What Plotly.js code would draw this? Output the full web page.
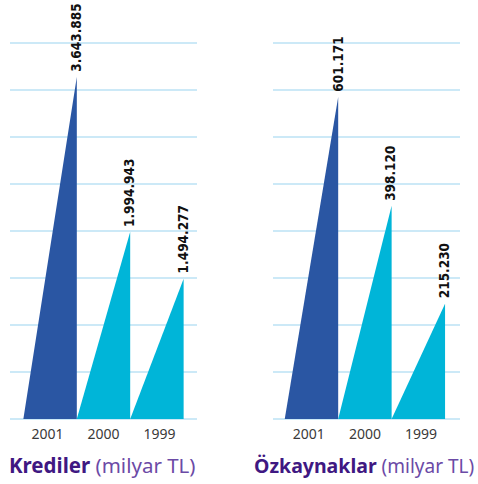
<!DOCTYPE html>
<html>
<head>
<meta charset="utf-8">
<script src="https://cdn.plot.ly/plotly-3.0.1.min.js"></script>
<style>html,body{margin:0;padding:0;background:#fff;}#chart{width:478px;height:484px;}</style>
</head>
<body>
<div id="chart"></div>
<script>
// ---- data ----
const years = ["2001", "2000", "1999"];
const krediler = [3643.885, 1994.943, 1494.277];
const ozkaynaklar = [601.171, 398.120, 215.230];
const krediLabels = ["3.643.885", "1.994.943", "1.494.277"];
const ozkLabels = ["601.171", "398.120", "215.230"];
const panelTitles = ["Krediler", "Özkaynaklar"];
const unitText = " (milyar TL)";

// ---- styles ----
const DARK = "#2a56a3";
const CYAN = "#00b5d8";
const GRID = "#cce9f7";
const PURPLE = "#3f1882";
const PURPLE_LIGHT = "#6b4aa6";
const W = 478, H = 484;

const traces = [];
const annotations = [];

function addPanel(vals, labels, xa, ya) {
  vals.forEach((v, i) => {
    traces.push({
      type: "scatter", mode: "lines", xaxis: xa, yaxis: ya,
      x: [i - 0.5, i + 0.5, i + 0.5, i - 0.5],
      y: [0, 0, v, 0],
      fill: "toself", fillcolor: i === 0 ? DARK : CYAN,
      line: {width: 0}, hoverinfo: "skip", showlegend: false
    });
    annotations.push({
      xref: xa, yref: ya, x: i + 0.5, y: v, yshift: 3, xshift: -1,
      text: "<b>" + labels[i] + "</b>", textangle: -90, showarrow: false,
      xanchor: "center", yanchor: "bottom",
      font: {family: "DejaVu Sans Condensed", size: 13.5, color: "#111"}
    });
  });
}
addPanel(krediler, krediLabels, "x", "y");
addPanel(ozkaynaklar, ozkLabels, "x2", "y2");

// scales (px per unit) so that grid spacing is 47px from baseline at y=419
const baseY = 419;
const leftScale = 342 / krediler[0];
const rightScale = 322 / ozkaynaklar[0];

function xaxis(domain, range) {
  return {
    domain: domain, range: range, showgrid: false, zeroline: false, showline: false,
    tickmode: "array", tickvals: [-0.05, 1, 2.05], ticktext: years, ticks: "",
    ticklabelstandoff: 5,
    tickfont: {family: "Noto Sans", size: 14, color: "#3a3a3a"}, fixedrange: true
  };
}
function yaxis(scale, anchor) {
  return {
    domain: [(H - baseY) / H, 1], range: [0, baseY / scale], anchor: anchor,
    tick0: 0, dtick: 47 / scale, showgrid: true, gridcolor: GRID, gridwidth: 2,
    zeroline: true, zerolinecolor: GRID, zerolinewidth: 2,
    showticklabels: false, showline: false, ticks: "", fixedrange: true
  };
}

function titleText(name, size) {
  return "<b>" + name + "</b><span style='color:" + PURPLE_LIGHT + ";font-size:" + size + "px'>" + unitText + "</span>";
}
annotations.push({
  xref: "paper", yref: "paper", x: 7 / W, y: (H - 465) / H, xanchor: "left", yanchor: "middle",
  showarrow: false, text: titleText(panelTitles[0], 20.5),
  font: {family: "Noto Sans", size: 20.5, color: PURPLE}
});
annotations.push({
  xref: "paper", yref: "paper", x: 252 / W, y: (H - 465) / H, xanchor: "left", yanchor: "middle",
  showarrow: false, text: titleText(panelTitles[1], 19),
  font: {family: "Noto Sans", size: 19.5, color: PURPLE}
});

const layout = {
  width: W, height: H, margin: {l: 0, r: 0, t: 0, b: 0},
  paper_bgcolor: "#fff", plot_bgcolor: "rgba(0,0,0,0)", showlegend: false,
  xaxis: xaxis([10 / W, 197 / W], [-0.75, 2.75]),
  yaxis: yaxis(leftScale, "x"),
  xaxis2: xaxis([273 / W, 460 / W], [-0.72, 2.78]),
  yaxis2: yaxis(rightScale, "x2"),
  annotations: annotations
};
layout.xaxis.anchor = "y";
layout.xaxis2.anchor = "y2";

Plotly.newPlot("chart", traces, layout, {displayModeBar: false, staticPlot: true});
</script>
</body>
</html>
